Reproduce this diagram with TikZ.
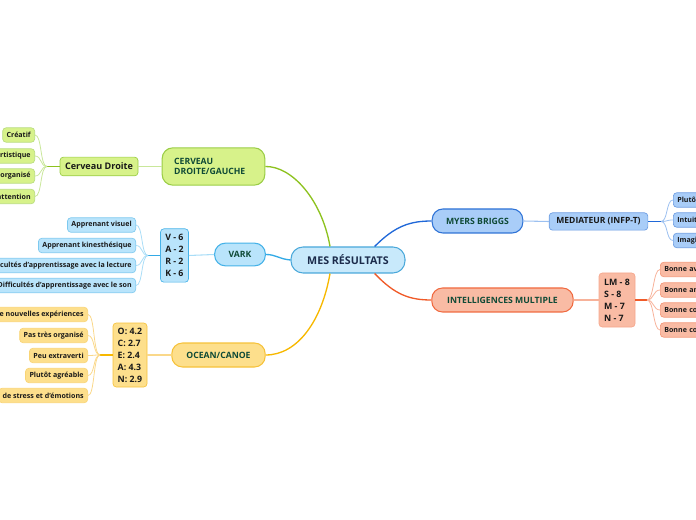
\documentclass[tikz,border=0pt]{standalone}
\usepackage{fontspec}
\setmainfont{Open Sans}
\usetikzlibrary{positioning}
\definecolor{grnline}{HTML}{8DC21F}
\definecolor{grnfill}{HTML}{D7F28A}
\definecolor{grnedge}{HTML}{9ACD45}
\definecolor{grnthin}{HTML}{C9E79A}
\definecolor{bluline}{HTML}{33AAE6}
\definecolor{blufill}{HTML}{B9E4FB}
\definecolor{bluedge}{HTML}{45B2E8}
\definecolor{bluthin}{HTML}{A9DDF7}
\definecolor{yelline}{HTML}{F7B800}
\definecolor{yelfill}{HTML}{FDDF8C}
\definecolor{yeledge}{HTML}{F6C23A}
\definecolor{yelthin}{HTML}{FAD88A}
\definecolor{mbline}{HTML}{2068D8}
\definecolor{mbfill}{HTML}{A9CDF8}
\definecolor{mbedge}{HTML}{2F73D6}
\definecolor{mbthin}{HTML}{9CC0F0}
\definecolor{orgline}{HTML}{F05A28}
\definecolor{orgfill}{HTML}{F9BBA4}
\definecolor{orgedge}{HTML}{F06A40}
\definecolor{orgthin}{HTML}{F7B29A}
\definecolor{mainfill}{HTML}{C8E9FB}
\definecolor{mainedge}{HTML}{4AA8DA}
\definecolor{maintext}{HTML}{1B2B4B}
\definecolor{brtext}{HTML}{0F4A36}

\tikzset{
  branch/.style={draw, line width=0.8pt, rounded corners=8pt, text=brtext,
    font=\fontsize{6.5}{8}\selectfont\bfseries, inner sep=0pt},
  subbox/.style={draw, line width=0.5pt, rounded corners=2.5pt, text=black!90,
    font=\fontsize{6.6}{9}\selectfont\bfseries, inner sep=0pt, align=left},
  leaf/.style={draw, line width=0.5pt, rounded corners=2.5pt, text=black!90,
    font=\fontsize{5.3}{6}\selectfont\bfseries, inner xsep=3pt, inner ysep=0pt,
    minimum height=10.8pt},
  rleaf/.style={leaf, anchor=west, text width=40pt, align=left},
  fan/.style={line width=0.6pt},
}

\begin{document}
\begin{tikzpicture}[x=0.75pt,y=-0.75pt]
  \useasboundingbox (0,0) rectangle (696,520);
  \clip (0,0) rectangle (696,520);

  % centre
  \node[draw=mainedge, fill=mainfill, line width=0.8pt, rounded corners=9pt,
    minimum width=85.5pt, minimum height=19.5pt, text=maintext,
    font=\fontsize{8}{9}\selectfont\bfseries] (main) at (348,260) {MES RÉSULTATS};

  % branches
  \node[branch, draw=grnedge, fill=grnfill, minimum width=77pt, minimum height=28pt,
    text width=59pt, align=left, inner xsep=9pt] (cerveau) at (213.5,166.5) {CERVEAU\\DROITE/GAUCHE};
  \node[branch, draw=bluedge, fill=blufill, minimum width=38pt, minimum height=17pt] (vark) at (240,254.5) {VARK};
  \node[branch, draw=yeledge, fill=yelfill, minimum width=70pt, minimum height=18pt] (ocean) at (218.5,355) {OCEAN/CANOE};
  \node[branch, draw=mbedge, fill=mbfill, minimum width=68pt, minimum height=18pt] (myers) at (477.5,221) {MYERS BRIGGS};
  \node[branch, draw=orgedge, fill=orgfill, minimum width=106pt, minimum height=18pt] (intel) at (502.5,300) {INTELLIGENCES MULTIPLE};

  \draw[grnline, line width=1pt] ([xshift=-13.5pt]main.north) .. controls (322,200) and (292,166) .. (cerveau.east);
  \draw[bluline, line width=1pt] (main.west) .. controls (279,259) and (276,254.5) .. (vark.east);
  \draw[yelline, line width=1pt] ([xshift=-13.5pt]main.south) .. controls (322,320) and (298,355) .. (ocean.east);
  \draw[mbline, line width=1pt] ([xshift=20pt]main.north) .. controls (395,226) and (410,221) .. (myers.west);
  \draw[orgline, line width=1pt] ([xshift=20pt]main.south) .. controls (395,295) and (410,300) .. (intel.west);

  % second level
  \node[subbox, draw=grnedge, fill=grnfill, minimum width=58.5pt, minimum height=14pt, align=center,
    font=\fontsize{6.8}{8}\selectfont\bfseries] (cdroite) at (99,166.5) {Cerveau Droite};
  \node[subbox, draw=bluedge, fill=blufill, minimum width=21pt, minimum height=40pt] (varkval) at (174.5,255.5)
    {V - 6\\A - 2\\R - 2\\K - 6};
  \node[subbox, draw=yeledge, fill=yelfill, minimum width=25.5pt, minimum height=48pt] (oceanval) at (130,355)
    {O: 4.2\\C: 2.7\\E: 2.4\\A: 4.3\\N: 2.9};
  \node[subbox, draw=mbedge!70, fill=mbfill, minimum width=74pt, minimum height=13pt,
    font=\fontsize{6.4}{8}\selectfont\bfseries] (mediat) at (598.5,221.5) {MEDIATEUR (INFP-T)};
  \node[subbox, draw=orgedge!60, fill=orgfill, minimum width=27pt, minimum height=40.5pt] (intelval) at (617,300)
    {LM - 8\\S - 8\\M - 7\\N - 7};

  \draw[grnthin, line width=0.8pt] (cerveau.west) -- (cdroite.east);
  \draw[bluthin, line width=0.8pt] (vark.west) -- (varkval.east);
  \draw[yelthin, line width=0.8pt] (ocean.west) -- (oceanval.east);
  \draw[mbthin, line width=0.8pt] (myers.east) -- (mediat.west);
  \draw[orgthin, line width=0.8pt] (intel.east) -- (intelval.west);

  % leaves: cerveau droite
  \node[leaf, draw=grnedge!70, fill=grnfill, anchor=east] (g1) at (35,135) {Créatif};
  \node[leaf, draw=grnedge!70, fill=grnfill, anchor=east] (g2) at (35,156) {artistique};
  \node[leaf, draw=grnedge!70, fill=grnfill, anchor=east] (g3) at (35,176) {organisé};
  \node[leaf, draw=grnedge!70, fill=grnfill, anchor=east] (g4) at (35,196.5) {attention};
  \coordinate (gj) at (47,166.5);
  \draw[grnline, line width=0.8pt] (cdroite.west) -- (gj);
  \foreach \n in {g1,g2,g3,g4}
    \draw[fan, grnthin] (gj) .. controls +(-7,0) and +(7,0) .. (\n.east);

  % leaves: vark
  \node[leaf, draw=bluedge!70, fill=blufill, anchor=east] (b1) at (136,225) {Apprenant visuel};
  \node[leaf, draw=bluedge!70, fill=blufill, anchor=east] (b2) at (136,245.5) {Apprenant kinesthésique};
  \node[leaf, draw=bluedge!70, fill=blufill, anchor=east] (b3) at (136,265.5) {Difficultés d'apprentissage avec la lecture};
  \node[leaf, draw=bluedge!70, fill=blufill, anchor=east] (b4) at (136,285.5) {Difficultés d'apprentissage avec le son};
  \coordinate (bj) at (148,255.5);
  \draw[bluline, line width=0.8pt] (varkval.west) -- (bj);
  \foreach \n in {b1,b2,b3,b4}
    \draw[fan, bluthin] (bj) .. controls +(-7,0) and +(7,0) .. (\n.east);

  % leaves: ocean
  \node[leaf, draw=yeledge!70, fill=yelfill, anchor=east] (y1) at (88,314.5) {de nouvelles expériences};
  \node[leaf, draw=yeledge!70, fill=yelfill, anchor=east] (y2) at (88,335.5) {Pas très organisé};
  \node[leaf, draw=yeledge!70, fill=yelfill, anchor=east] (y3) at (88,355.5) {Peu extraverti};
  \node[leaf, draw=yeledge!70, fill=yelfill, anchor=east] (y4) at (88,375.5) {Plutôt agréable};
  \node[leaf, draw=yeledge!70, fill=yelfill, anchor=east] (y5) at (88,395.5) {de stress et d'émotions};
  \coordinate (yj) at (100,355);
  \draw[yelline, line width=0.8pt] (oceanval.west) -- (yj);
  \foreach \n in {y1,y2,y3,y4,y5}
    \draw[fan, yelthin] (yj) .. controls +(-7,0) and +(7,0) .. (\n.east);

  % leaves: mediateur
  \node[rleaf, draw=mbedge!70, fill=mbfill] (m1) at (673,200) {Plutôt};
  \node[rleaf, draw=mbedge!70, fill=mbfill] (m2) at (673,220) {Intuitif};
  \node[rleaf, draw=mbedge!70, fill=mbfill] (m3) at (673,240.5) {Imaginatif};
  \coordinate (mj) at (661,221.5);
  \draw[mbline, line width=0.8pt] (mediat.east) -- (mj);
  \foreach \n in {m1,m2,m3}
    \draw[fan, mbthin] (mj) .. controls +(7,0) and +(-7,0) .. (\n.west);

  % leaves: intelligences
  \node[rleaf, draw=orgedge!70, fill=orgfill] (o1) at (660,269.5) {Bonne av};
  \node[rleaf, draw=orgedge!70, fill=orgfill] (o2) at (660,290) {Bonne an};
  \node[rleaf, draw=orgedge!70, fill=orgfill] (o3) at (660,310) {Bonne co};
  \node[rleaf, draw=orgedge!70, fill=orgfill] (o4) at (660,330) {Bonne co};
  \coordinate (oj) at (647,300);
  \draw[orgline, line width=0.8pt] (intelval.east) -- (oj);
  \foreach \n in {o1,o2,o3,o4}
    \draw[fan, orgthin] (oj) .. controls +(7,0) and +(-7,0) .. (\n.west);
\end{tikzpicture}
\end{document}
